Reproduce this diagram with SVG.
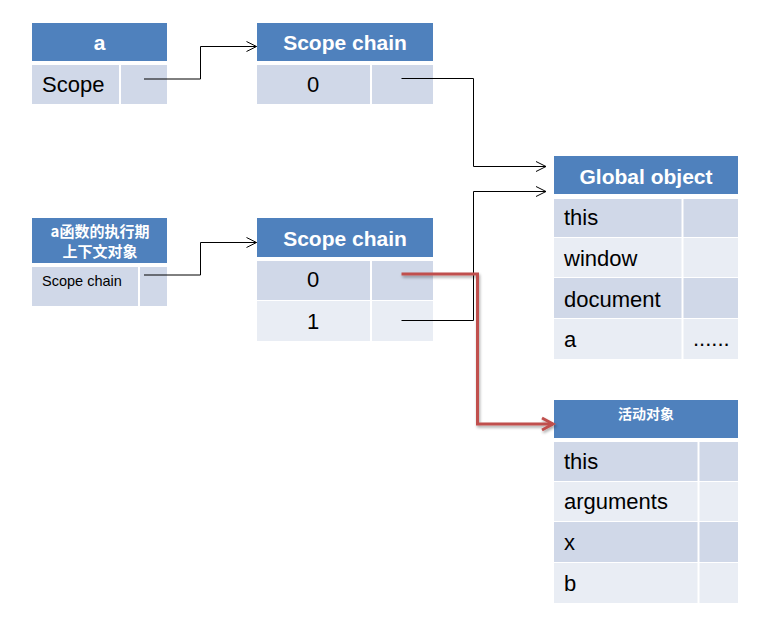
<svg xmlns="http://www.w3.org/2000/svg" width="776" height="625" viewBox="0 0 776 625">
<defs>
<style>
.hd{fill:#4F81BD}
.r1{fill:#D0D8E8}
.r2{fill:#E9EDF4}
.sep{stroke:#FFFFFF;stroke-width:2}
.ht{font-family:"Liberation Sans",Arial,sans-serif;font-weight:bold;font-size:21px;fill:#FFFFFF;text-anchor:middle}
.ct{font-family:"Noto Sans CJK SC","Liberation Sans",sans-serif;font-weight:bold;fill:#FFFFFF;text-anchor:middle}
.tx{font-family:"Liberation Sans",Arial,sans-serif;font-size:22px;fill:#000000}
.sm{font-family:"Liberation Sans",Arial,sans-serif;font-size:14.5px;fill:#000000}
.ln{fill:none;stroke:#000000;stroke-width:1}
.rd{fill:none;stroke:#C0504D;stroke-width:3}
</style>
<marker id="ah" markerWidth="14" markerHeight="14" refX="11" refY="6" orient="auto" markerUnits="userSpaceOnUse">
<path d="M1,1 L11,6 L1,11" fill="none" stroke="#000" stroke-width="1"/>
</marker>
<marker id="ahr" markerWidth="18" markerHeight="18" refX="13" refY="8" orient="auto" markerUnits="userSpaceOnUse">
<path d="M2,2 L13,8 L2,14" fill="none" stroke="#C0504D" stroke-width="3"/>
</marker>
<filter id="sh" x="-10%" y="-10%" width="130%" height="130%">
<feGaussianBlur in="SourceAlpha" stdDeviation="1.5"/>
<feOffset dx="1" dy="1.5" result="b"/>
<feComponentTransfer><feFuncA type="linear" slope="0.35"/></feComponentTransfer>
<feMerge><feMergeNode/><feMergeNode in="SourceGraphic"/></feMerge>
</filter>
</defs>
<rect width="776" height="625" fill="#FFFFFF"/>

<g id="node-a">
<rect class="hd" x="32" y="23" width="135" height="38"/>
<rect class="r1" x="32" y="65" width="135" height="39"/>
<line class="sep" x1="120" y1="65" x2="120" y2="104"/>
<text class="ht" x="99.5" y="50">a</text>
<text class="tx" x="42" y="92">Scope</text>
</g>

<g id="node-scope-chain-1">
<rect class="hd" x="257" y="23" width="176" height="38"/>
<rect class="r1" x="257" y="65" width="176" height="39"/>
<line class="sep" x1="371" y1="65" x2="371" y2="104"/>
<text class="ht" x="345" y="50">Scope chain</text>
<text class="tx" x="313" y="92" text-anchor="middle">0</text>
</g>

<g id="node-exec-context">
<rect class="hd" x="32" y="218" width="135" height="45"/>
<rect class="r1" x="32" y="267" width="135" height="39"/>
<line class="sep" x1="139" y1="267" x2="139" y2="306"/>
<text class="ct" x="100" y="236.5" font-size="15">a函数的执行期</text>
<text class="ct" x="100" y="256.5" font-size="15">上下文对象</text>
<text class="sm" x="42" y="286">Scope chain</text>
</g>

<g id="node-scope-chain-2">
<rect class="hd" x="257" y="218" width="176" height="39"/>
<rect class="r1" x="257" y="261" width="176" height="39"/>
<rect class="r2" x="257" y="301" width="176" height="40"/>
<line class="sep" x1="371" y1="261" x2="371" y2="341"/>
<text class="ht" x="345" y="246">Scope chain</text>
<text class="tx" x="313" y="287" text-anchor="middle">0</text>
<text class="tx" x="313" y="329" text-anchor="middle">1</text>
</g>

<g id="node-global-object">
<rect class="hd" x="554" y="156" width="184" height="38"/>
<rect class="r1" x="554" y="199" width="184" height="38"/>
<rect class="r2" x="554" y="238" width="184" height="39"/>
<rect class="r1" x="554" y="278" width="184" height="40"/>
<rect class="r2" x="554" y="319" width="184" height="40"/>
<line class="sep" x1="682.5" y1="199" x2="682.5" y2="359"/>
<text class="ht" x="646" y="184">Global object</text>
<text class="tx" x="564" y="225">this</text>
<text class="tx" x="564" y="266">window</text>
<text class="tx" x="564" y="307">document</text>
<text class="tx" x="564" y="347">a</text>
<text class="tx" x="693" y="346">......</text>
</g>

<g id="node-activation-object">
<rect class="hd" x="554" y="400" width="184" height="38"/>
<rect class="r1" x="554" y="442" width="184" height="39"/>
<rect class="r2" x="554" y="482" width="184" height="39"/>
<rect class="r1" x="554" y="522" width="184" height="40"/>
<rect class="r2" x="554" y="563" width="184" height="40"/>
<line class="sep" x1="698.5" y1="442" x2="698.5" y2="603"/>
<text class="ct" x="646" y="419" font-size="14">活动对象</text>
<text class="tx" x="564" y="469">this</text>
<text class="tx" x="564" y="509">arguments</text>
<text class="tx" x="564" y="550">x</text>
<text class="tx" x="564" y="591">b</text>
</g>

<g id="connectors">
<polyline class="ln" points="144,79 200.5,79 200.5,46.5 256.5,46.5" marker-end="url(#ah)"/>
<polyline class="ln" points="144,275 200.5,275 200.5,242.5 256.5,242.5" marker-end="url(#ah)"/>
<polyline class="ln" points="401.5,78.5 473.5,78.5 473.5,166.5 546,166.5" marker-end="url(#ah)"/>
<polyline class="ln" points="401.5,320.5 473.5,320.5 473.5,191.5 546,191.5" marker-end="url(#ah)"/>
<polyline class="rd" filter="url(#sh)" points="401.5,274 477.5,274 477.5,424 553,424" marker-end="url(#ahr)"/>
</g>
</svg>
